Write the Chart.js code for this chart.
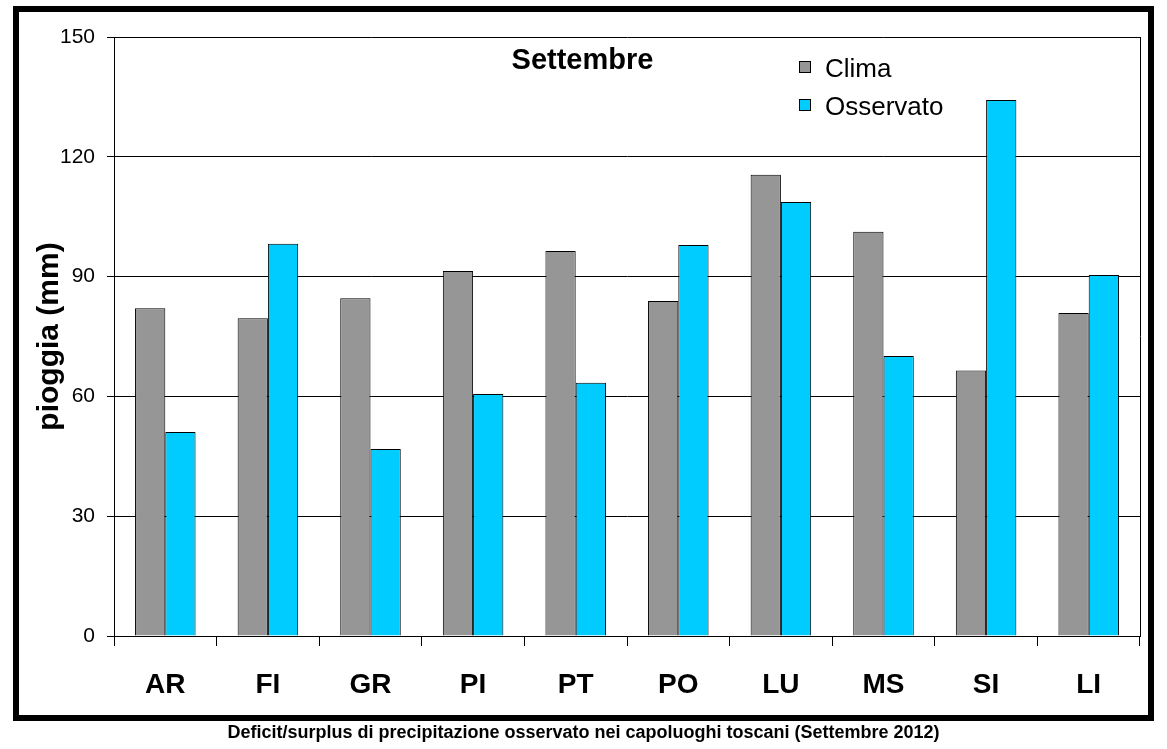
<!DOCTYPE html>
<html>
<head>
<meta charset="utf-8">
<script src="https://cdn.jsdelivr.net/npm/chart.js@4/dist/chart.umd.min.js"></script>
<style>
  html, body { margin: 0; padding: 0; background: #fff; }
  canvas { display: block; }
</style>
</head>
<body>
<canvas id="chart" width="1167" height="749"></canvas>
<script>
const stations = ['AR', 'FI', 'GR', 'PI', 'PT', 'PO', 'LU', 'MS', 'SI', 'LI'];
const clima = [82.1, 79.6, 84.6, 91.4, 96.4, 83.9, 115.5, 101.2, 66.5, 80.9];
const osservato = [51.1, 98.2, 46.8, 60.6, 63.4, 97.9, 108.7, 70.1, 134.2, 90.4];
const yTicks = [0, 30, 60, 90, 120, 150];

const FONT = 'Arial, "Liberation Sans", sans-serif';

// frame, title, legend, caption
const decorations = {
  id: 'decorations',
  afterDraw(chart) {
    const ctx = chart.ctx;
    const area = chart.chartArea;
    ctx.save();

    // right edge of the plot area
    ctx.strokeStyle = '#000';
    ctx.lineWidth = 1;
    ctx.beginPath();
    ctx.moveTo(area.right + 0.5, area.top);
    ctx.lineTo(area.right + 0.5, area.bottom);
    ctx.stroke();

    // thick outer frame
    ctx.lineWidth = 6;
    ctx.strokeRect(16, 9, 1135, 709);

    // title inside the plot
    ctx.fillStyle = '#000';
    ctx.textAlign = 'center';
    ctx.textBaseline = 'middle';
    ctx.font = 'bold 29px ' + FONT;
    ctx.fillText('Settembre', chart.width / 2 - 1, area.top + 24);

    // legend
    ctx.textAlign = 'left';
    ctx.font = '26px ' + FONT;
    chart.data.datasets.forEach((ds, i) => {
      const y = area.top + 30 + i * 38;
      ctx.fillStyle = ds.backgroundColor;
      ctx.fillRect(799.5, y - 5.5, 11, 11);
      ctx.lineWidth = 1;
      ctx.strokeStyle = '#000';
      ctx.strokeRect(799.5, y - 5.5, 11, 11);
      ctx.fillStyle = '#000';
      ctx.fillText(ds.label, 825, y + 3);
    });

    // caption under the frame
    ctx.textAlign = 'center';
    ctx.font = 'bold 18px ' + FONT;
    ctx.fillText('Deficit/surplus di precipitazione osservato nei capoluoghi toscani (Settembre 2012)', chart.width / 2, 733);

    ctx.restore();
  }
};

new Chart(document.getElementById('chart'), {
  type: 'bar',
  data: {
    labels: stations,
    datasets: [
      {
        label: 'Clima',
        data: clima,
        backgroundColor: '#969696',
        borderColor: '#000',
        borderWidth: 1,
        borderSkipped: 'bottom'
      },
      {
        label: 'Osservato',
        data: osservato,
        backgroundColor: '#00CCFF',
        borderColor: '#000',
        borderWidth: 1,
        borderSkipped: 'bottom'
      }
    ]
  },
  options: {
    responsive: false,
    animation: false,
    layout: { padding: { top: 37, right: 27, bottom: 0, left: 0 } },
    datasets: {
      bar: { categoryPercentage: 0.59, barPercentage: 1 }
    },
    plugins: {
      legend: { display: false },
      tooltip: { enabled: false }
    },
    scales: {
      x: {
        afterFit(scale) { scale.height = 113; },
        grid: {
          drawOnChartArea: false,
          drawTicks: true,
          tickLength: 10,
          color: '#000',
          lineWidth: 1
        },
        border: { color: '#000', width: 1 },
        ticks: {
          color: '#000',
          padding: 22,
          font: { family: FONT, size: 28, weight: 'bold' }
        }
      },
      y: {
        min: 0,
        max: 150,
        afterFit(scale) { scale.width = 114; },
        afterBuildTicks(scale) { scale.ticks = yTicks.map(v => ({ value: v })); },
        grid: {
          color: '#000',
          lineWidth: 1,
          tickLength: 7
        },
        border: { color: '#000', width: 1 },
        ticks: {
          color: '#000',
          padding: 12,
          font: { family: FONT, size: 21 }
        },
        title: {
          display: true,
          text: 'pioggia (mm)',
          color: '#000',
          padding: { top: 32, bottom: 0 },
          font: { family: FONT, size: 30, weight: 'bold' }
        }
      }
    }
  },
  plugins: [decorations]
});
</script>
</body>
</html>
